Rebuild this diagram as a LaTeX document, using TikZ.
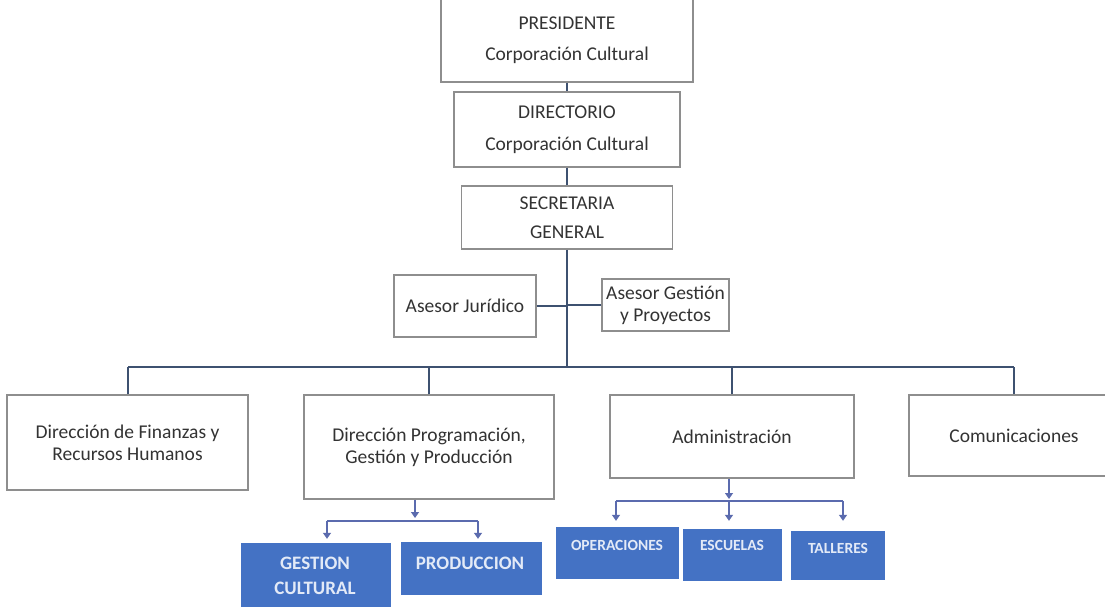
\documentclass[tikz,border=0pt]{standalone}
\usepackage{fontspec}
\setmainfont{Carlito}
\usetikzlibrary{arrows.meta}
\definecolor{boxline}{HTML}{8E8E8E}
\definecolor{conn}{HTML}{3E5170}
\definecolor{bluefill}{HTML}{4472C4}
\definecolor{bluetext}{HTML}{E3EAF7}
\definecolor{arrowc}{HTML}{5B6BAE}
\definecolor{txt}{HTML}{333333}
\tikzset{
  wbox/.style={draw=boxline, line width=1.1pt, fill=white, inner sep=0pt, align=center,
    text=txt, font=\fontsize{19.5}{22}\selectfont},
  bbox/.style={fill=bluefill, draw=none, inner sep=0pt},
  btxt/.style={inner sep=0pt, align=center, text=bluetext, font=\bfseries\fontsize{19}{25}\selectfont},
  stxt/.style={inner sep=0pt, align=center, text=bluetext, font=\bfseries\fontsize{15.5}{18}\selectfont},
  conline/.style={draw=conn, line width=1.2pt},
  subline/.style={draw=arrowc, line width=2pt},
  subarrow/.style={draw=arrowc, line width=1.3pt, -{Triangle[width=8pt,length=6pt]}}
}
\begin{document}
\begin{tikzpicture}[x=1pt,y=-1pt]
\useasboundingbox (0,0) rectangle (1105,607);
\fill[white] (0,0) rectangle (1105,607);

% top chain
\node[wbox, minimum width=252, minimum height=84] (pres) at (567,40) {PRESIDENTE\\[9pt]Corporación Cultural};
\node[wbox, minimum width=226, minimum height=75] (dir) at (567,129.5) {DIRECTORIO\\[10pt]Corporación Cultural};
\node[wbox, minimum width=211, minimum height=63] (sec) at (567,217.5) {SECRETARIA\\[7pt]GENERAL};

% advisors
\node[wbox, minimum width=142, minimum height=62] (jur) at (465,306) {Asesor Jurídico};
\node[wbox, minimum width=127, minimum height=52] (gest) at (665.5,305) {Asesor Gestión\\y Proyectos};

% directions
\node[wbox, minimum width=241, minimum height=95] (fin) at (127.5,442.5) {Dirección de Finanzas y\\Recursos Humanos};
\node[wbox, minimum width=250, minimum height=104] (prog) at (429,447) {Dirección Programación,\\Gestión y Producción};
\node[wbox, minimum width=244, minimum height=83] (adm) at (732,436.5) {Administración};
\node[wbox, minimum width=210, minimum height=81] (com) at (1014,435.5) {Comunicaciones};

% bus
\coordinate (busL) at (128,367);
\coordinate (busR) at (1014,367);
\draw[conline] (pres.south) -- (dir.north);
\draw[conline] (dir.south) -- (sec.north);
\draw[conline] (sec.south) -- (sec.south |- busL);
\draw[conline] (jur.east) -- (jur.east -| sec.south);
\draw[conline] (gest.west) -- (gest.west -| sec.south);
\draw[conline] (busL) -- (busR);
\draw[conline] (fin.north -| busL) -- (busL);
\draw[conline] (prog.north) -- (prog.north |- busL);
\draw[conline] (adm.north) -- (adm.north |- busL);
\draw[conline] (com.north) -- (busR);

% blue boxes under Programación
\node[bbox, minimum width=150, minimum height=74] (gc) at (316,580) {};
\node[btxt] (gct) at (315,575.5) {GESTION\\CULTURAL};
\node[bbox, minimum width=141, minimum height=53] (prod) at (471.5,568.5) {};
\node[btxt] (prodt) at (470,563) {PRODUCCION};

% blue boxes under Administración
\node[bbox, minimum width=123, minimum height=52] (oper) at (617.5,553) {};
\node[stxt] (opert) at (617,545) {OPERACIONES};
\node[bbox, minimum width=99, minimum height=52] (esc) at (732.5,555) {};
\node[stxt] (esct) at (732,545) {ESCUELAS};
\node[bbox, minimum width=94, minimum height=49] (tal) at (838,555.5) {};
\node[stxt] (talt) at (838,548) {TALLERES};

% sub connectors (Programación)
\coordinate (pj) at (415,521);
\coordinate (pl) at (327,521);
\coordinate (pr) at (478,521);
\draw[subarrow, shorten >=3pt] (prog.south -| pj) -- (pj);
\draw[subline] (pl) -- (pr);
\draw[subarrow, shorten >=4pt] (pl) -- (pl |- gc.north);
\draw[subarrow, shorten >=3pt] (pr) -- (pr |- prod.north);

% sub connectors (Administración)
\coordinate (aj) at (729,501);
\coordinate (al) at (616,501);
\coordinate (ar) at (843,501);
\draw[subarrow, shorten >=2pt] (adm.south -| aj) -- (aj);
\draw[subline] (al) -- (ar);
\draw[subarrow, shorten >=6pt] (al) -- (al |- oper.north);
\draw[subarrow, shorten >=8pt] (aj) -- (aj |- esc.north);
\draw[subarrow, shorten >=10pt] (ar) -- (ar |- tal.north);
\end{tikzpicture}
\end{document}
